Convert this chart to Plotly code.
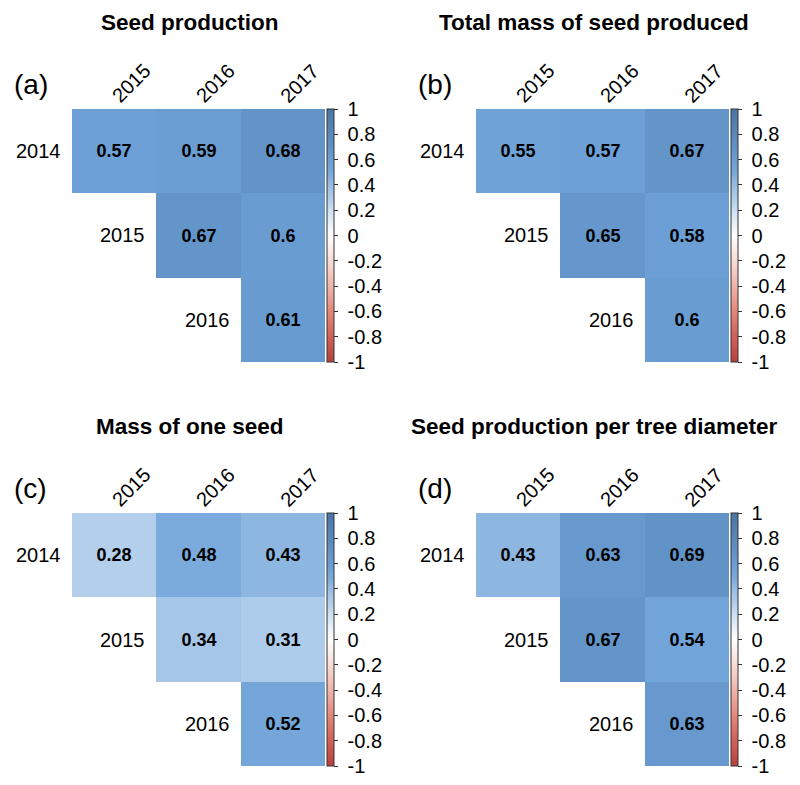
import plotly.graph_objects as go

col_years = ["2015", "2016", "2017"]
row_years = ["2014", "2015", "2016"]

seed_production = [[0.57, 0.59, 0.68], [None, 0.67, 0.6], [None, None, 0.61]]
total_mass = [[0.55, 0.57, 0.67], [None, 0.65, 0.58], [None, None, 0.6]]
one_seed_mass = [[0.28, 0.48, 0.43], [None, 0.34, 0.31], [None, None, 0.52]]
per_diameter = [[0.43, 0.63, 0.69], [None, 0.67, 0.54], [None, None, 0.63]]

titles = ["Seed production", "Total mass of seed produced",
          "Mass of one seed", "Seed production per tree diameter"]
tags = ["(a)", "(b)", "(c)", "(d)"]
cb_ticks = [1, 0.8, 0.6, 0.4, 0.2, 0, -0.2, -0.4, -0.6, -0.8, -1]

W, H = 800, 785
OFF = 8  # page body margin
# panel geometry in pixels: cell block left, top (3x3 cells of ~84 px)
panels = [(72, 109), (476, 109), (72, 513), (476, 513)]
side = 253

colorscale = [
    [0.0, "#b8403f"], [0.1, "#d0605a"], [0.2, "#e3877c"], [0.3, "#efb4ab"],
    [0.4, "#f8dcd7"], [0.5, "#ffffff"], [0.6, "#cde0f3"], [0.64, "#b3cfeb"],
    [0.67, "#a6c6e8"], [0.715, "#8db6e0"], [0.74, "#7aabdc"], [0.785, "#6ca0d6"],
    [0.84, "#6294c8"], [1.0, "#4a74a6"],
]

FONT = "Liberation Sans, Arial, sans-serif"
NB = "\u00a0"

fig = go.Figure()
layout = {}
annotations = []

for k, (data, title, tag, (px, py)) in enumerate(
        zip([seed_production, total_mass, one_seed_mass, per_diameter], titles, tags, panels)):
    n = k + 1
    sfx = "" if n == 1 else str(n)
    ca = "coloraxis" + sfx
    px, py = px - OFF, py - OFF
    text = [["" if v is None else f"<b>{v:g}</b>" for v in row] for row in data]
    fig.add_trace(go.Heatmap(
        z=data, x=[0, 1, 2], y=[0, 1, 2], text=text, texttemplate="%{text}",
        textfont=dict(size=18, color="black", family=FONT),
        coloraxis=ca, xaxis="x" + sfx, yaxis="y" + sfx, hoverongaps=False,
    ))
    x0, x1 = px / W, (px + side) / W
    y1, y0 = 1 - py / H, 1 - (py + side) / H
    layout["xaxis" + sfx] = dict(domain=[x0, x1], range=[-0.5, 2.5], visible=False,
                                 anchor="y" + sfx, fixedrange=True)
    layout["yaxis" + sfx] = dict(domain=[y0, y1], range=[2.5, -0.5], visible=False,
                                 anchor="x" + sfx, fixedrange=True)
    layout[ca] = dict(
        cmin=-1, cmax=1, colorscale=colorscale,
        colorbar=dict(
            x=(px + side + 2) / W, xanchor="left", y=(y0 + y1) / 2, yanchor="middle",
            xpad=0, ypad=0,
            lenmode="pixels", len=side, thicknessmode="pixels", thickness=7,
            outlinecolor="#333333", outlinewidth=1,
            tickvals=cb_ticks, ticktext=[NB + str(t) for t in cb_ticks],
            ticks="outside", ticklen=4, tickcolor="#333333",
            tickfont=dict(size=20, color="black", family=FONT),
        ),
    )
    xr, yr = "x" + sfx, "y" + sfx
    for j, lab in enumerate(col_years):
        annotations.append(dict(x=j, y=-0.5, xref=xr, yref=yr, text=lab, showarrow=False,
                                textangle=-45, xshift=17, yshift=26,
                                font=dict(size=20, color="black", family=FONT)))
    for i, lab in enumerate(row_years):
        annotations.append(dict(x=i - 0.5, y=i, xref=xr, yref=yr, text=lab, showarrow=False,
                                xanchor="right", xshift=-9,
                                font=dict(size=20, color="black", family=FONT)))
    cx = ((190 if k % 2 == 0 else 594) - OFF) / W
    ty = 1 - ((23 if k < 2 else 426) - OFF) / H
    annotations.append(dict(x=cx, y=ty, xref="paper", yref="paper", text=f"<b>{title}</b>",
                            xanchor="center", yanchor="middle",
                            showarrow=False, font=dict(size=22.5, color="black", family=FONT)))
    lx = ((12 if k % 2 == 0 else 416) - OFF) / W
    ly = 1 - ((85 if k < 2 else 488) - OFF) / H
    annotations.append(dict(x=lx, y=ly, xref="paper", yref="paper", text=tag,
                            xanchor="left", yanchor="middle",
                            showarrow=False, font=dict(size=28, color="black", family=FONT)))

fig.update_layout(
    width=W, height=H, margin=dict(l=0, r=0, t=0, b=0, autoexpand=False),
    paper_bgcolor="white", plot_bgcolor="white",
    annotations=annotations, **layout,
)

fig.write_html("out.html")
